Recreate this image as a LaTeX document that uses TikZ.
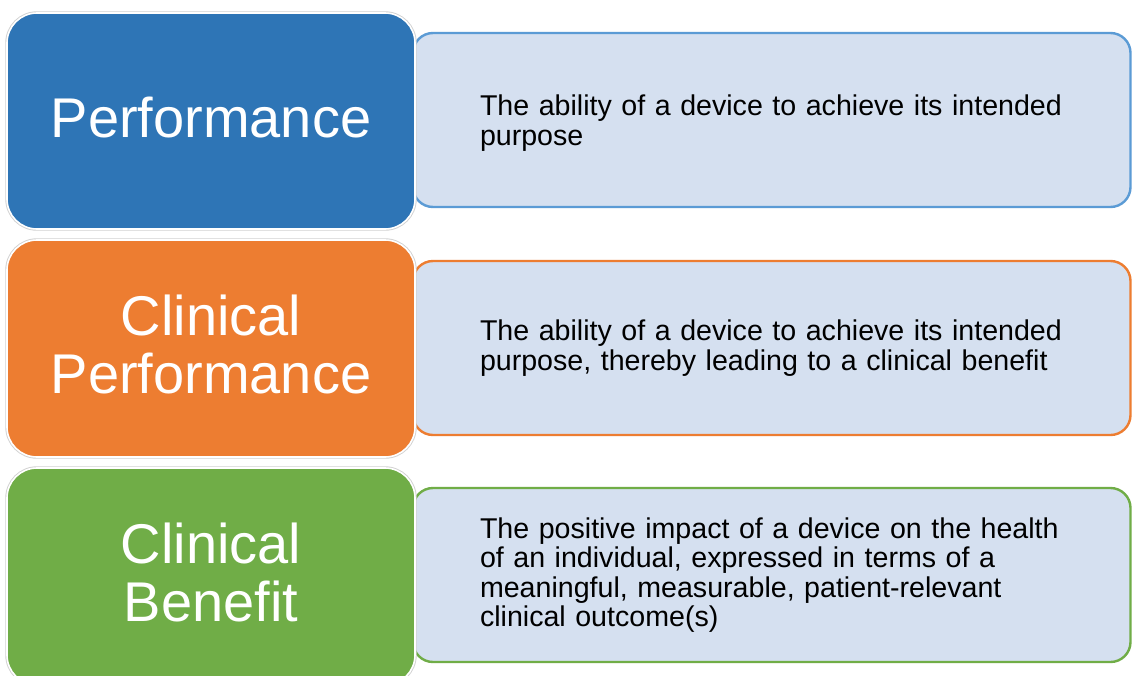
\documentclass[tikz,border=0pt]{standalone}
\usepackage{fontspec}
\setmainfont{Liberation Sans}
\definecolor{cblue}{HTML}{2E75B6}
\definecolor{corange}{HTML}{ED7D31}
\definecolor{cgreen}{HTML}{70AD47}
\definecolor{lblue}{HTML}{5B9BD5}
\definecolor{lfill}{HTML}{D5E0F0}
\tikzset{
  lbox/.style={rectangle, rounded corners=30pt, minimum width=408pt, inner sep=0pt,
    draw=white, line width=1.6pt, preaction={draw=black!18, line width=3.4pt},
    text=white, align=center, text depth=8pt, font=\fontsize{56}{58}\selectfont},
  rbox/.style={rectangle, rounded corners=20pt, minimum width=717.5pt, minimum height=174pt,
    inner sep=0pt, fill=lfill, line width=2.4pt, text=black, align=left,
    text width=583.5pt, font=\fontsize{28.6}{29.6}\selectfont}
}
\begin{document}
\begin{tikzpicture}[x=1pt,y=-1pt]
\useasboundingbox (0,0) rectangle (1132,675);
\fill[white] (0,0) rectangle (1132,675);
% right description boxes
\node[rbox, draw=lblue] (d1) at (771.75,120) {\mbox{}\\[-3pt]\mbox{The ability of a device to achieve its intended}\\\mbox{purpose}};
\node[rbox, draw=corange] (d2) at (771.75,348) {\mbox{The ability of a device to achieve its intended}\\\mbox{purpose, thereby leading to a clinical benefit}};
\node[rbox, draw=cgreen] (d3) at (771.75,575) {\mbox{The positive impact of a device on the health}\\\mbox{of an individual, expressed in terms of a}\\\mbox{meaningful, measurable, patient-relevant}\\\mbox{clinical outcome(s)}};
% left title boxes
\node[lbox, fill=cblue, minimum height=216pt] (t1) at (211,121) {Performance};
\node[lbox, fill=corange, minimum height=217pt] (t2) at (211,348.5) {Clinical\\Performance};
\node[lbox, fill=cgreen, minimum height=217pt] (t3) at (211,576.5) {Clinical\\Benefit};
\end{tikzpicture}
\end{document}
